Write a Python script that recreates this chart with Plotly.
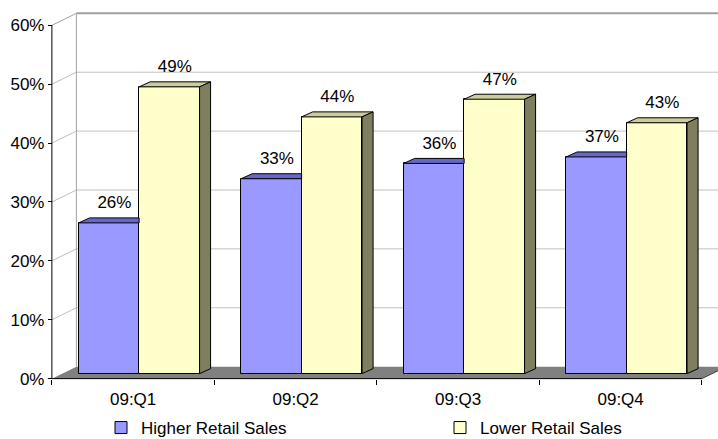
import plotly.graph_objects as go

# ---- data ----
quarters = ["09:Q1", "09:Q2", "09:Q3", "09:Q4"]
higher_sales = [25.6, 33.1, 35.7, 36.8]
lower_sales = [48.7, 43.6, 46.6, 42.6]
series_names = ["Higher Retail Sales", "Lower Retail Sales"]
y_ticks = [0, 10, 20, 30, 40, 50, 60]

# ---- geometry / style ----
W, H = 718, 439
PX = 162.5          # pixels per category
PY = 5.889          # pixels per percent
ML, MR, MT, MB = 47, 0, 10, 58
XR0 = -0.53
XR1 = XR0 + (W - ML - MR) / PX
YR0 = -0.4
YR1 = YR0 + (H - MT - MB) / PY
DX, DY = 24.5 / PX, 12 / PY      # wall depth
BDX, BDY = 11 / PX, 5 / PY       # bar depth
SX, SB = 6 / PX, 5 / PY          # bar offset into depth
BW = 0.372                        # bar width (category units)
LBL = 3.2                         # label offset above bar top

BLUE, BLUE_TOP = "#9999FF", "#6767C9"
YEL, YEL_TOP, YEL_SIDE = "#FFFFCC", "#CBCB9C", "#7F7F60"
FONT = "Liberation Sans, Arial, sans-serif"

xpos = list(range(len(quarters)))
x_left = -0.5
x_right = len(quarters) - 0.5
ymax = y_ticks[-1]

fig = go.Figure()

# front faces as bars
blue_x = [i + SX - BW / 2 for i in xpos]
yel_x = [i + SX + BW / 2 for i in xpos]
fig.add_trace(go.Bar(x=blue_x, y=higher_sales, base=[SB] * len(xpos), width=BW,
                     name=series_names[0], marker=dict(color=BLUE, line=dict(color="black", width=1)),
                     hoverinfo="skip", legend="legend"))
fig.add_trace(go.Bar(x=yel_x, y=lower_sales, base=[SB] * len(xpos), width=BW,
                     name=series_names[1], marker=dict(color=YEL, line=dict(color="black", width=1)),
                     hoverinfo="skip", legend="legend2"))

# top and side faces
bt_x, bt_y, yt_x, yt_y, ys_x, ys_y = [], [], [], [], [], []
for i, hv, lv in zip(xpos, higher_sales, lower_sales):
    x0, x1 = i + SX - BW, i + SX
    t = SB + hv
    bt_x += [x0, x1, x1, x0 + BDX, x0, None]
    bt_y += [t, t, t + BDY, t + BDY, t, None]
    x0, x1 = i + SX, i + SX + BW
    t = SB + lv
    yt_x += [x0, x1, x1 + BDX, x0 + BDX, x0, None]
    yt_y += [t, t, t + BDY, t + BDY, t, None]
    ys_x += [x1, x1 + BDX, x1 + BDX, x1, x1, None]
    ys_y += [SB, SB + BDY, t + BDY, t, SB, None]

for xs, ys, col in [(bt_x, bt_y, BLUE_TOP), (yt_x, yt_y, YEL_TOP), (ys_x, ys_y, YEL_SIDE)]:
    fig.add_trace(go.Scatter(x=xs, y=ys, mode="lines", fill="toself", fillcolor=col,
                             line=dict(color="black", width=1), showlegend=False, hoverinfo="skip"))

# data labels
lab_x = [i + SX - BW / 2 + BDX / 2 for i in xpos] + [i + SX + BW / 2 + BDX / 2 for i in xpos]
lab_y = [SB + v + LBL for v in higher_sales] + [SB + v + LBL for v in lower_sales]
lab_t = [f"{v:.0f}%" for v in higher_sales] + [f"{v:.0f}%" for v in lower_sales]
fig.add_trace(go.Scatter(x=lab_x, y=lab_y, mode="text", text=lab_t, textposition="middle center",
                         textfont=dict(family=FONT, size=17, color="black"),
                         showlegend=False, hoverinfo="skip", cliponaxis=False))

# walls, floor, axis lines
shapes = []
GRID, EDGE = "#C0C0C0", "#A0A0A0"
shapes.append(dict(type="path", xref="x", yref="y", layer="below",
                   path=f"M{x_left},0 L{x_right},0 L{x_right + DX},{DY} L{x_left + DX},{DY} Z",
                   fillcolor="#808080", line=dict(width=0)))
for v in y_ticks:
    col = EDGE if v == ymax else GRID
    if v > 0:
        shapes.append(dict(type="line", xref="x", yref="y", layer="below",
                           x0=x_left, y0=v, x1=x_left + DX, y1=v + DY, line=dict(color=col, width=1)))
    if 0 < v < ymax:
        shapes.append(dict(type="line", xref="x", yref="y", layer="below",
                           x0=x_left + DX, y0=v + DY, x1=XR1 + 1, y1=v + DY, line=dict(color=GRID, width=1)))
shapes.append(dict(type="line", xref="x", yref="y", layer="below",
                   x0=x_left + DX, y0=ymax + DY, x1=XR1 + 1, y1=ymax + DY, line=dict(color=EDGE, width=2)))
shapes.append(dict(type="line", xref="x", yref="y", layer="below",
                   x0=x_left + DX, y0=DY, x1=x_left + DX, y1=ymax + DY, line=dict(color=EDGE, width=1)))
shapes.append(dict(type="line", xref="x", yref="y", layer="above",
                   x0=x_left, y0=0, x1=x_left, y1=ymax, line=dict(color="black", width=1)))
shapes.append(dict(type="line", xref="x", yref="y", layer="above",
                   x0=x_left, y0=0, x1=x_right, y1=0, line=dict(color="black", width=1)))
shapes.append(dict(type="line", xref="x", yref="y", layer="above",
                   x0=x_right, y0=0, x1=x_right + DX, y1=DY, line=dict(color="#404040", width=1)))

PW, PH = W - ML - MR, H - MT - MB
legend_common = dict(orientation="h", xanchor="left", y=(H - MB - 428) / PH, yanchor="middle",
                     font=dict(family=FONT, size=17, color="black"), bgcolor="rgba(0,0,0,0)")

fig.update_layout(
    width=W, height=H,
    margin=dict(l=ML, r=MR, t=MT, b=MB, autoexpand=False),
    paper_bgcolor="white", plot_bgcolor="white",
    barmode="overlay", bargap=0,
    font=dict(family=FONT, size=17, color="black"),
    shapes=shapes,
    showlegend=True,
    legend=dict(x=(101 - ML) / PW, **legend_common),
    legend2=dict(x=(440 - ML) / PW, **legend_common),
    xaxis=dict(range=[XR0, XR1], tickmode="array", tickvals=xpos, ticktext=quarters,
               ticks="", showgrid=False, zeroline=False, showline=False,
               anchor="free", position=(0 - YR0) / (YR1 - YR0), ticklabelstandoff=8,
               tickfont=dict(family=FONT, size=17, color="black"),
               minor=dict(tickmode="array", tickvals=[v + 0.5 for v in [-1] + xpos], ticks="outside",
                          ticklen=5, tickcolor="black", tickwidth=1, showgrid=False)),
    yaxis=dict(range=[YR0, YR1], tickmode="array", tickvals=y_ticks,
               ticktext=[f"{v}%" for v in y_ticks],
               ticks="outside", ticklen=4, tickcolor="black", tickwidth=1,
               showgrid=False, zeroline=False, showline=False,
               anchor="free", position=(x_left - XR0) / (XR1 - XR0),
               tickfont=dict(family=FONT, size=17, color="black")),
)

fig.write_html("out.html")
